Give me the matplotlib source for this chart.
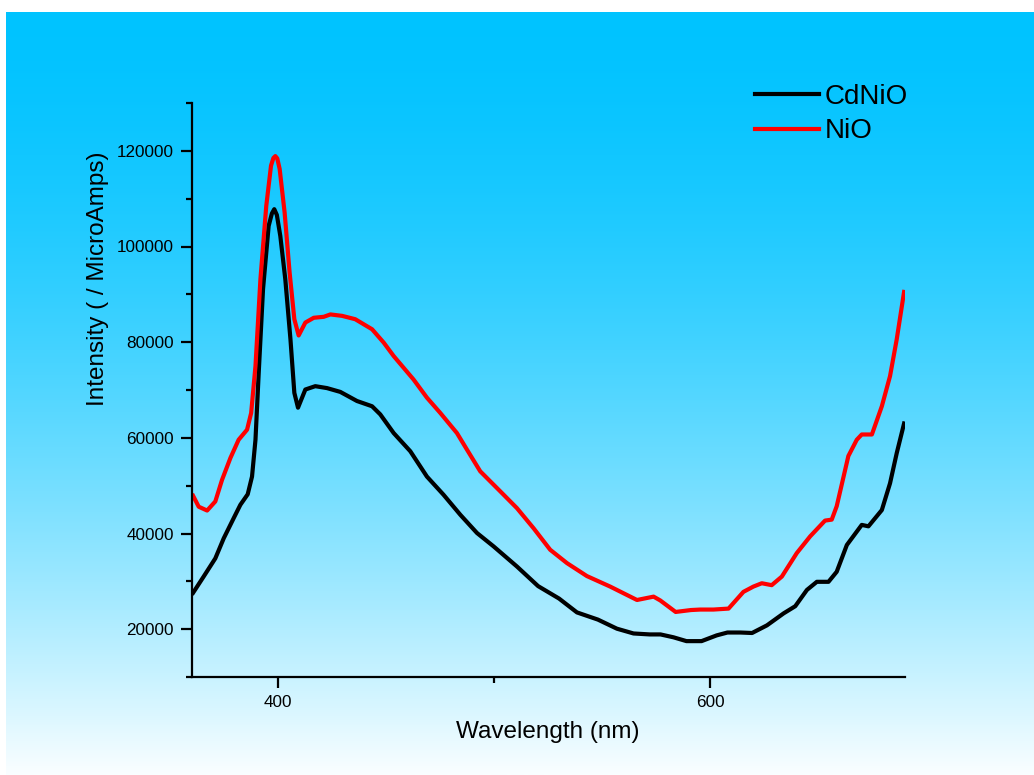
import matplotlib
matplotlib.use('Agg')
import matplotlib.pyplot as plt
from matplotlib.ticker import MultipleLocator
import numpy as np

plt.rcParams['font.family'] = ['Liberation Sans', 'DejaVu Sans']

# CdNiO (black curve)
cdnio_wl = [360.5, 365.4, 370.8, 374.7, 379.3, 382.4, 385.8, 387.8, 389.4, 390.9,
            392.9, 395.5, 397.0, 398.1, 399.3, 400.9, 403.2, 405.6, 407.4, 409.1, 412.5,
            417.1, 422.5, 428.7, 436.4, 443.4, 447.2, 453.4, 461.1, 468.8, 476.5,
            484.3, 492.0, 499.7, 510.5, 520.3, 530.0, 538.3, 548.0, 556.8, 564.5,
            572.0, 577.0, 583.0, 589.0, 596.0, 603.0, 608.0, 614.0, 619.4, 626.3,
            634.0, 639.4, 644.8, 649.4, 654.8, 658.6, 663.3, 667.9, 670.2, 673.3,
            676.4, 679.5, 683.3, 686.4, 689.8]
cdnio_int = [27600, 31000, 34800, 39000, 43200, 46000, 48200, 51900, 59600, 73600,
             91100, 104300, 106900, 107800, 106600, 102200, 93200, 80600, 69400, 66300, 70100,
             70800, 70400, 69600, 67700, 66600, 64900, 61000, 57200, 51900, 48100,
             43900, 40100, 37300, 33100, 29000, 26400, 23500, 22000, 20100, 19100,
             18900, 18900, 18300, 17500, 17500, 18700, 19300, 19300, 19200, 20800,
             23300, 24800, 28200, 29900, 29900, 32000, 37600, 40400, 41800, 41500,
             43200, 44900, 50500, 56800, 63000]

# NiO (red curve)
nio_wl = [360.5, 363.1, 367.0, 370.8, 373.9, 377.8, 381.6, 385.5, 387.4, 389.4,
          391.7, 394.4, 396.6, 397.7, 398.6, 399.5, 400.6, 402.9, 405.2, 407.4, 409.4, 412.5,
          416.4, 421.0, 424.1, 429.5, 435.6, 443.4, 448.8, 453.4, 462.6, 468.8,
          475.0, 482.7, 487.4, 493.5, 502.8, 510.5, 518.2, 525.9, 533.7, 542.9,
          553.7, 563.0, 566.1, 573.8, 576.9, 584.0, 591.1, 595.4, 601.5, 608.5,
          615.4, 620.0, 623.9, 628.5, 633.2, 640.1, 646.3, 653.2, 656.3, 658.6,
          664.0, 667.9, 670.2, 674.9, 679.5, 683.3, 686.4, 689.8]
nio_int = [47900, 45600, 44800, 46700, 51200, 55800, 59600, 61700, 65200, 75000,
           93200, 108500, 116900, 118500, 118900, 118400, 116200, 107100, 94600, 84800, 81400, 84100,
           85100, 85300, 85800, 85500, 84800, 82700, 79900, 77100, 72200, 68400,
           65200, 61000, 57500, 53000, 48800, 45300, 41100, 36600, 33800, 31100,
           28900, 26800, 26100, 26800, 26000, 23600, 24000, 24100, 24100, 24300,
           27800, 28900, 29600, 29200, 31000, 35900, 39400, 42700, 42900, 45700,
           56200, 59600, 60700, 60700, 66600, 72900, 80600, 90500]

W, H = 1034, 775
fig = plt.figure(figsize=(W / 100, H / 100), dpi=100, facecolor='white')

# gradient backdrop (cyan at top fading to white)
bg = fig.add_axes([6 / W, 0, 1 - 6 / W, 1 - 12 / H], zorder=0)
t = np.linspace(0, 1, 400) ** 1.6
top = np.array([0, 195, 255]) / 255
bottom = np.array([250, 254, 255]) / 255
grad = top[None, :] + (bottom - top)[None, :] * t[:, None]
bg.imshow(grad[:, None, :], aspect='auto', extent=[0, 1, 0, 1])
bg.axis('off')

ax = fig.add_axes([192 / W, 1 - 677 / H, (904.5 - 192) / W, (677 - 103) / H], zorder=1)
ax.patch.set_alpha(0)

ax.plot(cdnio_wl, cdnio_int, color='black', lw=3, label='CdNiO', solid_joinstyle='round')
ax.plot(nio_wl, nio_int, color='#ff0000', lw=3, label='NiO', solid_joinstyle='round')

ax.set_xlim(360, 690)
ax.set_ylim(10000, 130000)
ax.xaxis.set_major_locator(MultipleLocator(200))
ax.xaxis.set_minor_locator(MultipleLocator(100))
ax.yaxis.set_major_locator(MultipleLocator(20000))
ax.yaxis.set_minor_locator(MultipleLocator(10000))

for s in ['top', 'right']:
    ax.spines[s].set_visible(False)
for s in ['left', 'bottom']:
    ax.spines[s].set_linewidth(1.6)

ax.tick_params(which='major', direction='out', length=8, width=1.6, labelsize=12.3, pad=5)
ax.tick_params(which='minor', direction='out', length=4, width=1.6)

ax.set_xlabel('Wavelength (nm)', fontsize=17.5, labelpad=8)
ax.set_ylabel('Intensity ( / MicroAmps)', fontsize=17.5)
ax.yaxis.set_label_coords(-0.116, 0.693)

ax.legend(loc='upper left', bbox_to_anchor=(755 / W, 1 - 84 / H),
          bbox_transform=fig.transFigure, frameon=False, fontsize=20,
          handlelength=2.3, handletextpad=0.2, labelspacing=0.3,
          borderpad=0, borderaxespad=0)

fig.savefig('out.png', dpi=100, facecolor='white')
